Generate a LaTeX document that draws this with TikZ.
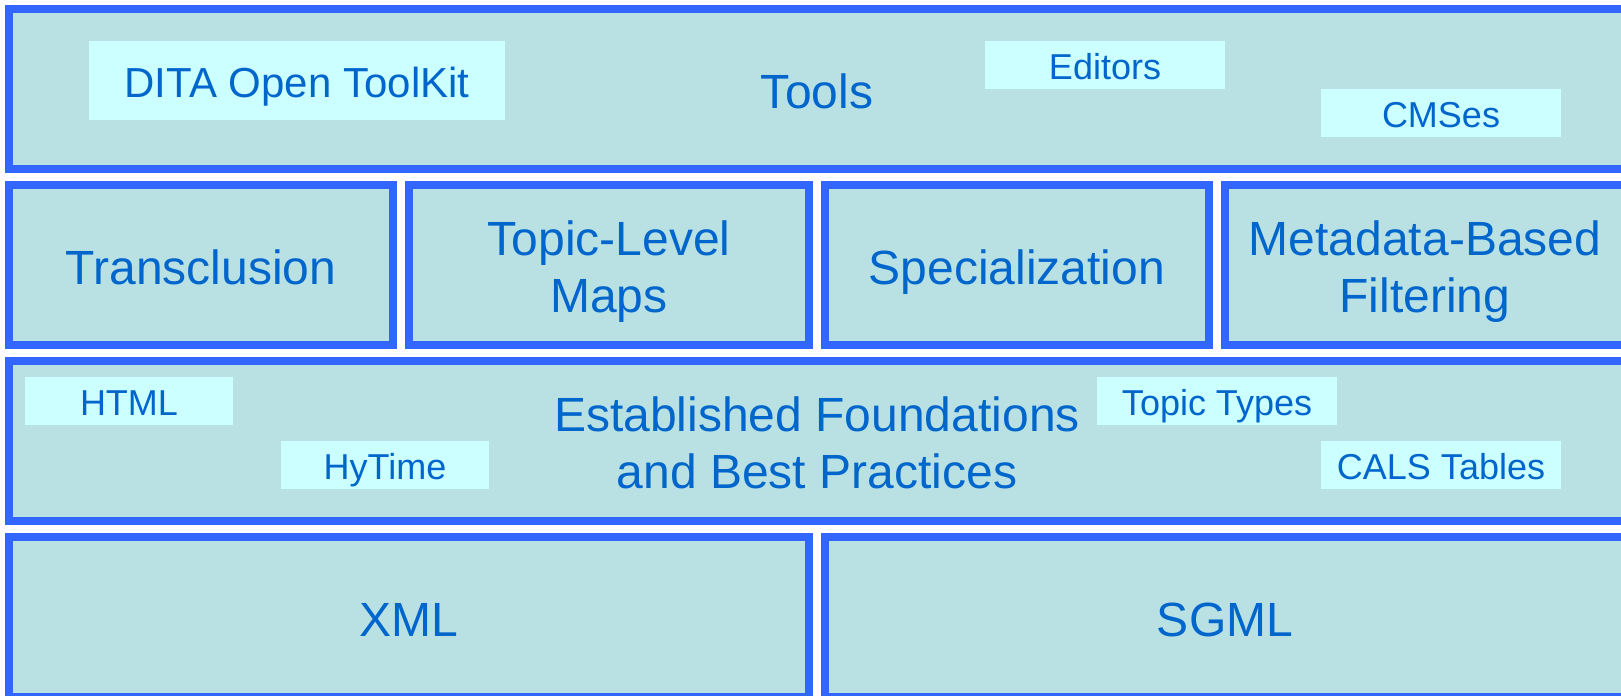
\documentclass[tikz,border=0pt]{standalone}
\usepackage{fontspec}
\setmainfont{Liberation Sans}
\usetikzlibrary{positioning}

\definecolor{layerfill}{HTML}{B9E0E3}
\definecolor{layerline}{HTML}{3366FF}
\definecolor{tagfill}{HTML}{CCFFFF}
\definecolor{labeltext}{HTML}{0066CC}

\begin{document}
\begin{tikzpicture}[x=0.75pt,y=-0.75pt,node distance=306pt,
	layer/.style={draw=layerline,fill=layerfill,line width=6pt,inner sep=0pt,outer sep=0pt,
		minimum height=120pt,text height=28.5pt,text depth=0pt,
		text=labeltext,align=center,font=\fontsize{36}{43}\selectfont},
	twolines/.style={text height=71.5pt},
	tag/.style={fill=tagfill,inner sep=0pt,minimum height=36pt,text height=22.4pt,text depth=0pt,
		text=labeltext,font=\fontsize{27}{32}\selectfont}]
	\path[use as bounding box,clip] (0,0) rectangle (1621,696);
	\fill[white] (0,0) rectangle (1621,696);
	
	\node[layer,minimum width=1212pt] (tools) at (817,89) {Tools};
	
	\node[layer,minimum width=288pt] (trans) at (201,265) {Transclusion};
	\node[layer,twolines,minimum width=300pt] (maps) [right of=trans] {Topic-Level\\Maps};
	\node[layer,minimum width=288pt] (spec) [right of=maps] {Specialization};
	\node[layer,twolines,minimum width=300pt] (meta) [right of=spec] {Metadata-Based\\Filtering};
	
	\node[layer,twolines,minimum width=1212pt] (found) at (817,441) {Established Foundations\\and Best Practices};
	
	\node[layer,minimum width=600pt] (xml) at (409,617) {XML};
	\node[layer,minimum width=600pt,node distance=612pt] (sgml) [right of=xml] {SGML};
	
	\node[tag,minimum width=312pt,minimum height=59.25pt,text height=26pt,
		font=\fontsize{31.5}{38}\selectfont] (dita) at (297,80.5) {DITA Open ToolKit};
	\node[tag,minimum width=180pt] (editors) at (1105,65) {Editors};
	\node[tag,minimum width=180pt] (cmses) at (1441,112.5) {CMSes};
	
	\node[tag,minimum width=156pt] (html) at (129,400.7) {HTML};
	\node[tag,minimum width=156pt] (hytime) at (385,465) {HyTime};
	\node[tag,minimum width=180pt] (types) at (1217,400.7) {Topic Types};
	\node[tag,minimum width=180pt] (cals) at (1441,465) {CALS Tables};
\end{tikzpicture}
\end{document}
